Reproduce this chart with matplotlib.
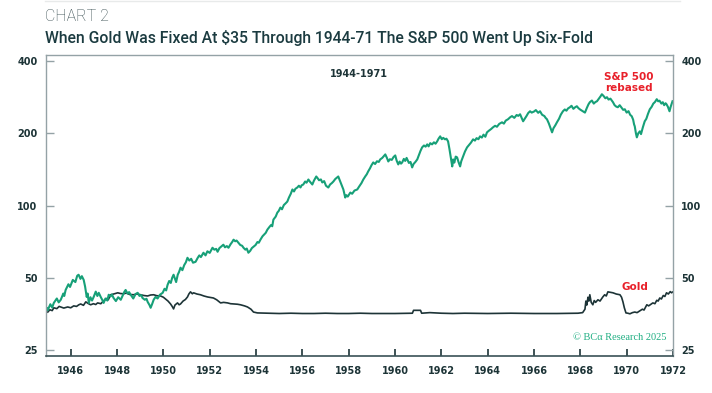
import matplotlib
matplotlib.use("Agg")
import matplotlib.pyplot as plt
from matplotlib.font_manager import FontProperties
from matplotlib.ticker import FixedLocator, NullLocator

# S&P 500 rebased
sp_years = [1944.92, 1944.97, 1945.01, 1945.12, 1945.2, 1945.27, 1945.4, 1945.48, 1945.57, 1945.68,
            1945.72, 1945.78, 1945.9, 1945.97, 1946.09, 1946.2, 1946.28, 1946.34, 1946.42, 1946.48,
            1946.56, 1946.62, 1946.69, 1946.73, 1946.78, 1946.85, 1946.92, 1946.99, 1947.08, 1947.15,
            1947.21, 1947.3, 1947.36, 1947.42, 1947.5, 1947.58, 1947.64, 1947.72, 1947.78, 1947.85,
            1947.95, 1948.05, 1948.16, 1948.26, 1948.32, 1948.37, 1948.45, 1948.52, 1948.59, 1948.7,
            1948.8, 1948.89, 1948.97, 1949.04, 1949.10, 1949.2, 1949.27, 1949.32, 1949.4, 1949.45,
            1949.52, 1949.58, 1949.66, 1949.75, 1949.85, 1949.97, 1950.05, 1950.12, 1950.18, 1950.25,
            1950.32, 1950.38, 1950.44, 1950.5, 1950.55, 1950.62, 1950.68, 1950.74, 1950.82, 1950.9,
            1950.97, 1951.04, 1951.12, 1951.2, 1951.28, 1951.39, 1951.48, 1951.55, 1951.62, 1951.73,
            1951.82, 1951.9, 1952.0, 1952.12, 1952.2, 1952.28, 1952.34, 1952.42, 1952.5, 1952.59,
            1952.66, 1952.74, 1952.81, 1952.9, 1952.97, 1953.03, 1953.1, 1953.16, 1953.24, 1953.32,
            1953.4, 1953.46, 1953.54, 1953.6, 1953.67, 1953.75, 1953.82, 1953.89, 1953.98, 1954.06,
            1954.12, 1954.19, 1954.28, 1954.35, 1954.42, 1954.49, 1954.58, 1954.65, 1954.7, 1954.75,
            1954.85, 1954.92, 1954.98, 1955.05, 1955.12, 1955.2, 1955.27, 1955.35, 1955.42, 1955.5,
            1955.57, 1955.64, 1955.7, 1955.78, 1955.85, 1955.92, 1955.97, 1956.04, 1956.12, 1956.18,
            1956.26, 1956.32, 1956.38, 1956.43, 1956.5, 1956.55, 1956.60, 1956.66, 1956.72, 1956.8,
            1956.86, 1956.94, 1957.02, 1957.12, 1957.2, 1957.27, 1957.34, 1957.42, 1957.48, 1957.55,
            1957.62, 1957.7, 1957.77, 1957.82, 1957.85, 1957.9, 1957.96, 1958.07, 1958.15, 1958.25,
            1958.37, 1958.45, 1958.55, 1958.63, 1958.72, 1958.78, 1958.84, 1958.92, 1958.98, 1959.06,
            1959.14, 1959.22, 1959.3, 1959.36, 1959.45, 1959.52, 1959.58, 1959.65, 1959.71, 1959.78,
            1959.86, 1959.94, 1960.01, 1960.07, 1960.14, 1960.2, 1960.26, 1960.31, 1960.38, 1960.44,
            1960.5, 1960.53, 1960.6, 1960.67, 1960.74, 1960.8, 1960.88, 1960.96, 1961.04, 1961.1,
            1961.17, 1961.25, 1961.32, 1961.39, 1961.45, 1961.52, 1961.6, 1961.68, 1961.75, 1961.82,
            1961.88, 1961.95, 1962.02, 1962.08, 1962.16, 1962.22, 1962.29, 1962.35, 1962.4, 1962.44,
            1962.47, 1962.51, 1962.56, 1962.62, 1962.68, 1962.74, 1962.81, 1962.86, 1962.94, 1963.02,
            1963.11, 1963.2, 1963.28, 1963.37, 1963.45, 1963.52, 1963.6, 1963.67, 1963.75, 1963.82,
            1963.9, 1963.97, 1964.05, 1964.15, 1964.23, 1964.32, 1964.4, 1964.5, 1964.62, 1964.7,
            1964.78, 1964.88, 1964.97, 1965.05, 1965.15, 1965.25, 1965.32, 1965.4, 1965.46, 1965.53,
            1965.6, 1965.68, 1965.75, 1965.83, 1965.9, 1966.0, 1966.08, 1966.18, 1966.26, 1966.35,
            1966.45, 1966.5, 1966.56, 1966.64, 1966.7, 1966.75, 1966.78, 1966.84, 1966.92, 1966.99,
            1967.08, 1967.16, 1967.25, 1967.33, 1967.4, 1967.47, 1967.55, 1967.62, 1967.7, 1967.78,
            1967.85, 1967.92, 1968.0, 1968.11, 1968.2, 1968.28, 1968.35, 1968.41, 1968.5, 1968.58,
            1968.65, 1968.72, 1968.8, 1968.87, 1968.93, 1969.0, 1969.08, 1969.15, 1969.22, 1969.3,
            1969.36, 1969.41, 1969.48, 1969.55, 1969.62, 1969.7, 1969.78, 1969.85, 1969.92, 1970.0,
            1970.08, 1970.15, 1970.22, 1970.28, 1970.32, 1970.35, 1970.4, 1970.44, 1970.5, 1970.57,
            1970.62, 1970.7, 1970.78, 1970.85, 1970.92, 1971.0, 1971.08, 1971.15, 1971.22, 1971.3,
            1971.36, 1971.42, 1971.5, 1971.56, 1971.62, 1971.68, 1971.72, 1971.78, 1971.85, 1971.9,
            1971.98]
sp_values = [36.0, 37.5, 36.7, 38.8, 37.6, 39.3, 41.0, 39.5, 40.5, 43.0,
             42.0, 44.5, 47.0, 45.8, 49.0, 48.0, 51.0, 51.5, 49.5, 50.8,
             49.0, 46.0, 41.6, 43.0, 39.3, 41.5, 40.2, 41.6, 43.8, 42.0,
             43.3, 41.5, 40.5, 39.3, 41.0, 40.2, 42.5, 41.8, 42.6, 41.2,
             40.0, 41.5, 40.5, 42.5, 43.8, 44.5, 43.0, 43.6, 42.5, 41.0,
             42.8, 43.3, 42.0, 42.4, 41.2, 40.5, 40.9, 39.7, 38.5, 37.5,
             39.0, 40.5, 41.6, 41.0, 42.5, 43.3, 45.0, 44.3, 46.7, 48.5,
             47.6, 50.0, 51.5, 49.5, 48.0, 51.5, 53.0, 55.1, 53.8, 56.5,
             58.0, 60.6, 59.0, 60.0, 57.8, 58.3, 60.5, 62.0, 61.0, 63.6,
             62.0, 64.5, 63.5, 66.7, 65.5, 66.0, 64.2, 66.5, 67.5, 68.7,
             67.0, 67.8, 66.7, 69.0, 70.5, 72.1, 71.0, 71.5, 70.0, 68.5,
             68.0, 66.7, 65.5, 66.2, 63.6, 64.8, 66.5, 67.4, 68.5, 70.5,
             70.0, 72.1, 74.5, 75.8, 77.0, 79.4, 81.5, 83.0, 82.0, 87.4,
             90.0, 93.5, 95.0, 98.1, 96.5, 100.5, 102.0, 103.9, 108.0, 112.0,
             116.7, 114.5, 117.5, 118.9, 121.0, 119.0, 121.5, 122.4, 126.0, 124.5,
             128.4, 126.0, 124.0, 122.4, 127.0, 129.5, 132.2, 130.0, 127.5, 128.5,
             124.8, 126.5, 121.0, 118.9, 122.5, 124.0, 126.0, 129.0, 130.5, 132.2,
             127.0, 121.0, 116.7, 111.0, 108.0, 110.5, 109.0, 113.3, 112.0, 115.5,
             116.7, 120.0, 124.0, 128.4, 132.5, 135.0, 138.7, 143.0, 147.0, 151.3,
             149.0, 153.0, 152.0, 155.7, 158.0, 161.0, 163.4, 158.0, 152.7, 156.0,
             155.0, 159.5, 161.8, 154.0, 148.4, 152.5, 149.5, 151.3, 156.5, 153.5,
             158.0, 155.7, 150.5, 152.0, 144.2, 149.0, 152.0, 155.7, 163.0, 169.0,
             174.8, 178.0, 176.0, 179.9, 176.5, 182.0, 179.9, 183.5, 181.0, 185.2,
             190.0, 194.3, 189.0, 191.5, 188.8, 190.0, 185.2, 172.0, 160.0, 150.0,
             145.6, 155.7, 151.0, 160.0, 158.8, 152.0, 145.6, 153.0, 160.3, 168.0,
             174.8, 179.0, 183.0, 188.8, 186.5, 191.0, 189.0, 194.3, 192.0, 197.5,
             193.5, 201.9, 205.0, 208.5, 211.9, 215.0, 213.0, 219.0, 222.3, 219.5,
             226.0, 229.0, 233.3, 236.0, 232.0, 238.5, 236.5, 240.1, 233.0, 224.5,
             230.0, 236.5, 243.0, 247.2, 244.0, 246.5, 250.0, 243.5, 247.2, 239.0,
             236.0, 232.0, 228.9, 220.0, 212.0, 205.0, 201.9, 210.0, 216.0, 222.3,
             230.0, 239.5, 247.2, 251.5, 248.5, 254.0, 256.9, 260.5, 253.0, 257.0,
             259.4, 254.5, 251.0, 247.2, 244.0, 255.0, 264.0, 269.6, 274.0, 266.0,
             270.0, 272.2, 279.0, 285.0, 291.1, 286.5, 280.0, 282.9, 276.5, 279.0,
             274.0, 269.6, 262.0, 258.5, 256.9, 262.0, 256.0, 250.5, 252.0, 244.0,
             247.5, 239.0, 235.6, 228.0, 218.0, 213.9, 200.0, 192.4, 200.0, 203.9,
             198.5, 212.0, 224.5, 230.0, 241.0, 252.0, 258.0, 266.0, 270.0, 277.5,
             272.0, 273.5, 266.0, 269.6, 262.0, 267.0, 264.4, 258.0, 247.2, 258.0,
             272.2]

# Gold price
gold_years = [1945.01, 1945.1, 1945.2, 1945.27, 1945.4, 1945.5, 1945.57, 1945.7, 1945.87, 1946.0,
              1946.13, 1946.25, 1946.35, 1946.43, 1946.55, 1946.65, 1946.75, 1946.86, 1946.98, 1947.08,
              1947.16, 1947.3, 1947.42, 1947.55, 1947.62, 1947.72, 1947.85, 1948.03, 1948.15, 1948.28,
              1948.4, 1948.55, 1948.72, 1948.85, 1949.02, 1949.15, 1949.32, 1949.45, 1949.58, 1949.72,
              1949.88, 1950.0, 1950.09, 1950.2, 1950.31, 1950.38, 1950.44, 1950.5, 1950.61, 1950.68,
              1950.74, 1950.85, 1950.95, 1951.04, 1951.1, 1951.17, 1951.25, 1951.30, 1951.45, 1951.60,
              1951.75, 1951.91, 1952.05, 1952.16, 1952.3, 1952.47, 1952.6, 1952.77, 1952.9, 1953.03,
              1953.2, 1953.33, 1953.5, 1953.63, 1953.78, 1953.89, 1954.06, 1954.5, 1955.0, 1955.5,
              1956.0, 1956.5, 1957.0, 1957.5, 1958.0, 1958.5, 1959.0, 1959.5, 1960.0, 1960.75,
              1960.8, 1961.1, 1961.15, 1961.5, 1962.0, 1962.5, 1963.0, 1964.0, 1965.0, 1966.0,
              1967.0, 1967.9, 1968.1, 1968.2, 1968.24, 1968.28, 1968.33, 1968.37, 1968.41, 1968.47,
              1968.54, 1968.6, 1968.66, 1968.76, 1968.85, 1968.97, 1969.05, 1969.12, 1969.19, 1969.3,
              1969.41, 1969.55, 1969.71, 1969.78, 1969.84, 1969.9, 1969.97, 1970.05, 1970.14, 1970.25,
              1970.35, 1970.45, 1970.57, 1970.68, 1970.75, 1970.87, 1970.95, 1971.05, 1971.13, 1971.22,
              1971.3, 1971.36, 1971.43, 1971.5, 1971.58, 1971.65, 1971.72, 1971.8, 1971.88, 1971.94,
              1971.98]
gold_values = [36.0, 36.8, 36.5, 37.5, 37.2, 38.0, 37.8, 37.4, 37.8, 37.5,
               38.2, 38.0, 38.6, 38.9, 38.4, 39.7, 39.1, 38.6, 39.0, 38.7,
               39.3, 39.0, 40.1, 41.0, 40.5, 42.5, 42.8, 43.3, 43.0, 42.9,
               43.2, 42.6, 42.5, 42.8, 42.5, 42.2, 42.0, 42.4, 42.5, 42.1,
               42.0, 41.5, 40.8, 40.0, 38.9, 38.0, 37.1, 38.5, 39.3, 38.6,
               38.9, 40.0, 40.6, 41.6, 42.8, 43.7, 42.9, 43.3, 42.8, 42.5,
               42.0, 41.6, 41.4, 41.2, 40.5, 39.3, 39.5, 39.3, 39.0, 38.9,
               38.8, 38.6, 38.2, 37.8, 37.0, 36.0, 35.7, 35.6, 35.5, 35.6,
               35.5, 35.5, 35.6, 35.5, 35.5, 35.6, 35.5, 35.5, 35.5, 35.6,
               36.6, 36.6, 35.6, 35.8, 35.6, 35.5, 35.6, 35.5, 35.6, 35.5,
               35.5, 35.6, 35.8, 37.0, 40.0, 38.5, 41.5, 40.0, 42.5, 39.5,
               38.6, 40.2, 39.5, 40.5, 40.0, 41.6, 42.5, 42.0, 43.7, 43.5,
               43.3, 42.8, 42.5, 41.5, 39.7, 37.5, 35.7, 35.6, 35.4, 35.8,
               36.0, 35.8, 36.4, 37.0, 36.7, 38.6, 38.2, 38.8, 39.3, 39.0,
               40.3, 40.0, 41.2, 40.8, 42.2, 41.8, 43.3, 42.8, 43.8, 43.3,
               43.6]

y_ticks = [25, 50, 100, 200, 400]
x_ticks = list(range(1946, 1973, 2))

green = "#17a078"
dark = "#1d3437"
frame = "#94a2a6"
red = "#e8202a"

fig = plt.figure(figsize=(7.12, 3.93), dpi=100)
ax = fig.add_axes([0.0642, 0.094, 0.881, 0.766])

ax.plot(gold_years, gold_values, color=dark, lw=1.2)
ax.plot(sp_years, sp_values, color=green, lw=1.5)

ax.set_yscale("log", base=2)
ax.set_ylim(23.6, 424)
ax.set_xlim(1944.92, 1972.0)

ax.yaxis.set_major_locator(FixedLocator(y_ticks))
ax.yaxis.set_minor_locator(NullLocator())
ax.set_yticklabels([str(v) for v in y_ticks])
ax.xaxis.set_major_locator(FixedLocator(x_ticks))
ax.xaxis.set_minor_locator(NullLocator())
ax.set_xticklabels([str(v) for v in x_ticks])

ax.tick_params(axis="y", which="both", direction="in", length=6, width=1, color=frame,
               left=True, right=True, labelleft=True, labelright=True, labelcolor=dark, pad=6)
ax.tick_params(axis="x", direction="in", length=5, width=1.2, color=dark, labelcolor=dark, pad=7)
tick_fp = FontProperties(family="DejaVu Sans", weight="bold", size=7)
for t in ax.yaxis.get_major_ticks() + ax.xaxis.get_major_ticks():
    t.label1.set_fontproperties(tick_fp)
    t.label2.set_fontproperties(tick_fp)

for side in ["top", "left", "right"]:
    ax.spines[side].set_color(frame)
    ax.spines[side].set_linewidth(1.0)
ax.spines["bottom"].set_color("#3a5256")
ax.spines["bottom"].set_linewidth(1.2)

# titles
fig.text(0.063, 0.957, "CHART 2", fontsize=11.5, family="Roboto", weight="light",
         color="#34494d", va="center", ha="left")
fig.text(0.063, 0.903, "When Gold Was Fixed At $35 Through 1944-71 The S&P 500 Went Up Six-Fold",
         fontsize=11.3, family="Roboto", weight="medium", color="#1b3b40", va="center", ha="left")
fig.add_artist(plt.Line2D([0.063, 0.955], [0.997, 0.997], color="#e8eaea", lw=1.0))

# annotations
ax.text(0.5, 0.937, "1944-1971", transform=ax.transAxes, ha="center", va="center",
        fontsize=7, weight="bold", color=dark)
ax.text(0.93, 0.91, "S&P 500\nrebased", transform=ax.transAxes, ha="center", va="center",
        fontsize=7.5, weight="bold", color=red, linespacing=1.15)
ax.text(0.94, 0.229, "Gold", transform=ax.transAxes, ha="center", va="center",
        fontsize=7.5, weight="bold", color=red)
ax.text(0.99, 0.06, "\u00a9 BC\u03b1 Research 2025", transform=ax.transAxes, ha="right", va="center",
        fontsize=7.5, family="Liberation Serif", color="#1fae82")

fig.savefig("out.png", dpi=100)
